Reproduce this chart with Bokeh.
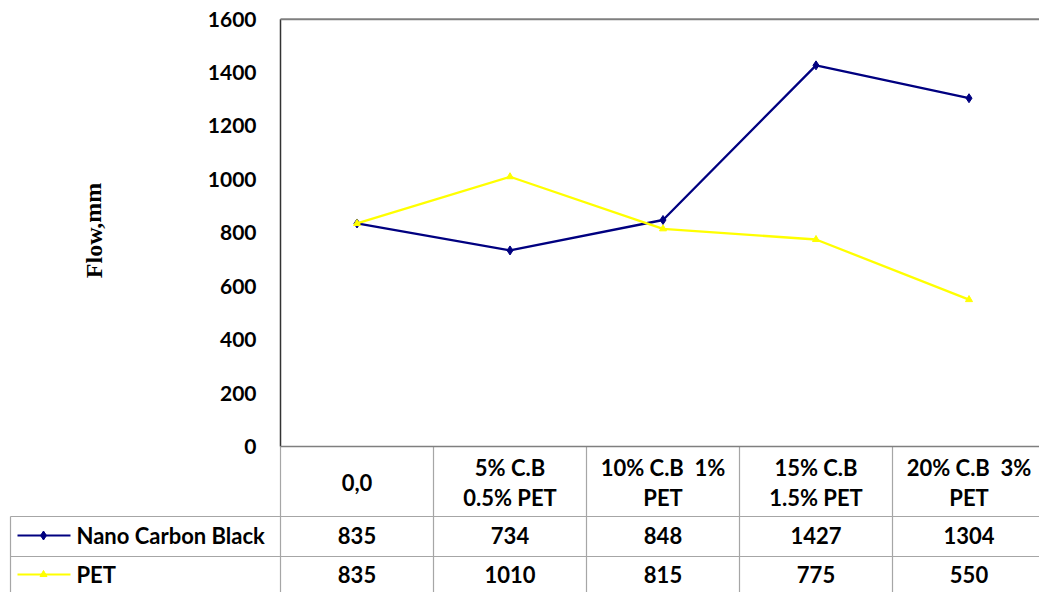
from bokeh.plotting import figure
from bokeh.models import Range1d
from bokeh.core.properties import value
from bokeh.embed import file_html
from bokeh.resources import INLINE

# ---- data ----
categories = ["0,0", "5% C.B\n0.5% PET", "10% C.B\u00a0 1%\nPET", "15% C.B\n1.5% PET", "20% C.B\u00a0 3%\nPET"]
nano_carbon_black = [835, 734, 848, 1427, 1304]
pet = [835, 1010, 815, 775, 550]
series_names = ["Nano Carbon Black", "PET"]
y_ticks = [0, 200, 400, 600, 800, 1000, 1200, 1400, 1600]
y_title = "Flow,mm"

# ---- layout helpers (page pixel -> data) ----
X0, CW = 280.0, 153.0          # page px of first category edge, px per category
Y0, KY = 446.0, 0.2671         # page px of value 0, px per unit
OFF = 0                        # page offset of the figure
def dx(px): return (px - X0) / CW
def dy(py): return (Y0 - py) / KY

W, H = 1039, 592
p = figure(width=W, height=H, output_backend="svg", toolbar_location=None,
           x_range=Range1d(dx(OFF), dx(OFF + W)), y_range=Range1d(dy(OFF + H), dy(OFF)),
           x_axis_location=None, y_axis_location=None,
           min_border=0, min_border_left=0, min_border_right=0,
           min_border_top=0, min_border_bottom=0)
p.outline_line_color = None
p.xgrid.visible = False
p.ygrid.visible = False
p.background_fill_color = "white"
p.border_fill_color = "white"

FONT = value("Lato")
FS = "21px"
FT = "22px"
n = len(categories)
xs = [i + 0.5 for i in range(n)]
ymax = y_ticks[-1]

# ---- frame ----
p.segment(x0=[0], y0=[0], x1=[0], y1=[ymax], line_color="#333333", line_width=1.5)
p.segment(x0=[0], y0=[ymax], x1=[dx(1060)], y1=[ymax], line_color="#7f7f7f", line_width=2)

# ---- table grid ----
ybot = dy(600)
row1_top, row2_top = dy(516), dy(556)
p.segment(x0=[i for i in range(n + 1)], y0=[0] * (n + 1), x1=[i for i in range(n + 1)], y1=[ybot] * (n + 1),
          line_color="#a6a6a6", line_width=1.2)
p.segment(x0=[dx(10), dx(10)], y0=[row1_top, row2_top], x1=[dx(1060), dx(1060)], y1=[row1_top, row2_top],
          line_color="#a6a6a6", line_width=1.2)
p.segment(x0=[dx(10)], y0=[row1_top], x1=[dx(10)], y1=[ybot], line_color="#a6a6a6", line_width=1.2)
p.segment(x0=[0], y0=[0], x1=[dx(1060)], y1=[0], line_color="#7f7f7f", line_width=1.5)

# ---- series ----
p.line(xs, nano_carbon_black, line_color="#000080", line_width=2.3)
p.scatter(xs, nano_carbon_black, marker="diamond", size=9, fill_color="#000080", line_color="#000080")
p.line(xs, pet, line_color="#FFFF00", line_width=2.3)
p.scatter(xs, pet, marker="triangle", size=7, fill_color="#FFFF00", line_color="#FFFF00")

# ---- y tick labels ----
p.text(x=[dx(256)] * len(y_ticks), y=y_ticks, text=[str(t) for t in y_ticks],
       text_font=FONT, text_font_style="bold", text_font_size=FS,
       text_align="right", text_baseline="middle", text_color="black")

# ---- y title ----
p.text(x=[dx(93)], y=[dy(230)], text=[y_title], angle=1.5708,
       text_font=value("Liberation Serif"), text_font_style="bold", text_font_size="24px",
       text_align="center", text_baseline="middle", text_color="black")

# ---- table header ----
p.text(x=xs, y=[dy(482)] * n, text=categories, text_font=FONT, text_font_style="bold",
       text_font_size=FT, text_align="center", text_baseline="middle",
       text_line_height=1.1, text_color="black")

# ---- table rows ----
r1y, r2y = dy(535), dy(574)
p.text(x=xs, y=[r1y] * n, text=[str(v) for v in nano_carbon_black], text_font=FONT,
       text_font_style="bold", text_font_size=FT, text_align="center", text_baseline="middle")
p.text(x=xs, y=[r2y] * n, text=[str(v) for v in pet], text_font=FONT,
       text_font_style="bold", text_font_size=FT, text_align="center", text_baseline="middle")

# legend keys
p.segment(x0=[dx(17), dx(17)], y0=[r1y, r2y], x1=[dx(70), dx(70)], y1=[r1y, r2y],
          line_color=["#000080", "#FFFF00"], line_width=2)
p.scatter([dx(43)], [r1y], marker="diamond", size=9, fill_color="#000080", line_color="#000080")
p.scatter([dx(43)], [r2y], marker="triangle", size=7, fill_color="#FFFF00", line_color="#FFFF00")
p.text(x=[dx(76), dx(76)], y=[r1y, r2y], text=series_names, text_font=FONT,
       text_font_style="bold", text_font_size=FT, text_align="left", text_baseline="middle")

open("out.html", "w").write(file_html(p, INLINE))
